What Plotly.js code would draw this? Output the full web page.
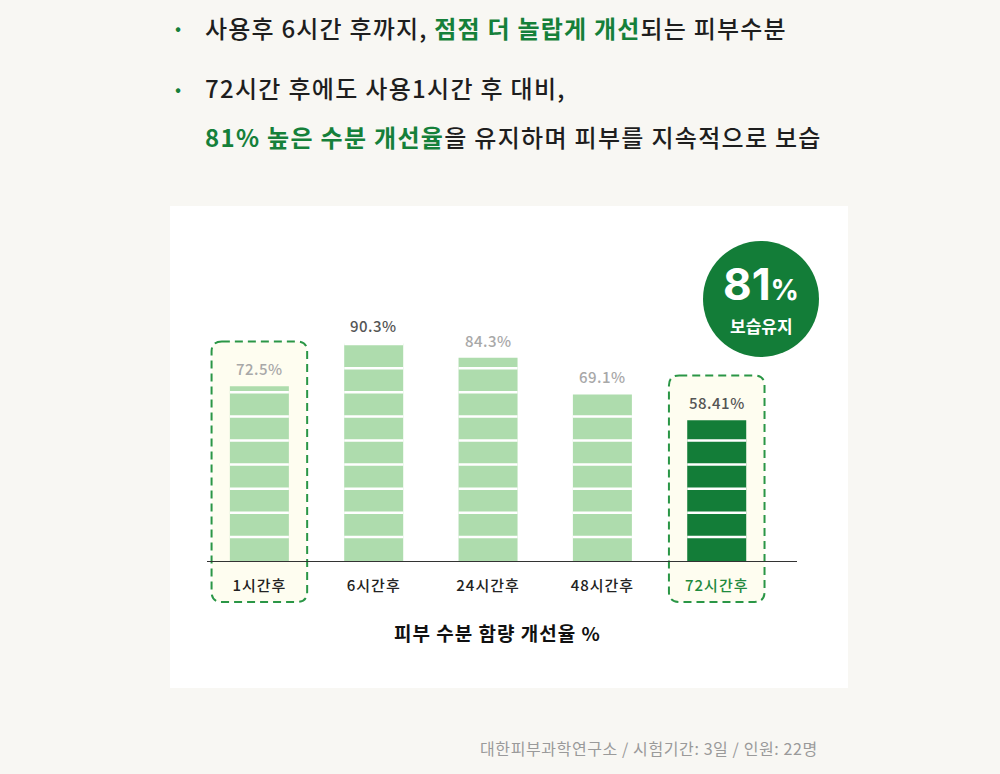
<!DOCTYPE html>
<html><head><meta charset="utf-8">
<script src="https://cdn.plot.ly/plotly-3.0.1.min.js"></script>
<style>html,body{margin:0;padding:0;background:#f8f7f3;}</style>
</head><body><div id="chart" style="width:1000px;height:774px;"></div>
<script>
// ---- data ----
const categories = ['1시간후', '6시간후', '24시간후', '48시간후', '72시간후'];
const values = [72.5, 90.3, 84.3, 69.1, 58.41];
const valueLabels = ['72.5%', '90.3%', '84.3%', '69.1%', '58.41%'];
const highlightedIdx = [0, 4];
const badgeNumber = '81';
const badgeUnit = '%';
const badgeText = '보습유지';
const axisTitle = '피부 수분 함량 개선율 %';
const headPlain1a = '사용후 6시간 후까지, ';
const headGreen1 = '점점 더 놀랍게 개선';
const headPlain1b = '되는 피부수분';
const headPlain2 = '72시간 후에도 사용1시간 후 대비,';
const headGreen3 = '81% 높은 수분 개선율';
const headPlain3 = '을 유지하며 피부를 지속적으로 보습';
const footnote = '대한피부과학연구소 / 시험기간: 3일 / 인원: 22명';

// ---- style ----
const FONT = '"Noto Sans CJK KR", "Noto Sans", sans-serif';
const GREEN = '#15803a';
const LIGHT = '#aedcad';
const DARK = '#137d38';
const DASH = '#2a9646';
const barColors = categories.map((c, i) => i === categories.length - 1 ? DARK : LIGHT);
const labelColors = ['#a8a8a8', '#555555', '#a8a8a8', '#a8a8a8', '#555555'];
const tickColors = ['#222222', '#222222', '#222222', '#222222', '#1f8a3e'];
const BW = 0.516;
const sp = (t, ls, extra) => `<span style="letter-spacing:${ls}px${extra ? ';' + extra : ''}">${t}</span>`;

// pixel frame
const L = 207, R = 797, T = 206, B = 688, BASE = 561, PXU = 2.41;
const px = p => (p - L) / (R - L);
const py = p => (B - p) / (B - T);
const yRange = [-(B - BASE) / PXU, (BASE - T) / PXU];
const xRange = [-0.458, 4.702];

const xs = categories.map((c, i) => i);

const trace = {
  type: 'bar', x: xs, y: values, width: BW,
  marker: {color: barColors, line: {width: 0}},
  hoverinfo: 'skip'
};

const shapes = [];
// white panel
shapes.push({type: 'rect', xref: 'paper', yref: 'paper', x0: px(170), x1: px(848), y0: py(688), y1: py(206),
  fillcolor: '#ffffff', line: {width: 0}, layer: 'below'});
// highlight boxes
function roundRect(x0, x1, y0, y1, rx, ry) {
  return `M${x0 + rx},${y1} L${x1 - rx},${y1} Q${x1},${y1} ${x1},${y1 - ry} L${x1},${y0 + ry} Q${x1},${y0} ${x1 - rx},${y0} L${x0 + rx},${y0} Q${x0},${y0} ${x0},${y0 + ry} L${x0},${y1 - ry} Q${x0},${y1} ${x0 + rx},${y1} Z`;
}
highlightedIdx.forEach(i => {
  shapes.push({type: 'path', xref: 'x', yref: 'y', layer: 'below',
    path: roundRect(i - 0.418, i + 0.418, -17.0, values[i] + 18.6, 0.09, 4.2),
    fillcolor: '#fefdf0', line: {color: DASH, width: 2, dash: '8px,5px'}});
});
// white separators every 10 units
values.forEach((v, i) => {
  for (let k = 10; k < v; k += 10) {
    shapes.push({type: 'line', xref: 'x', yref: 'y', x0: i - BW / 2, x1: i + BW / 2, y0: k, y1: k,
      line: {color: '#ffffff', width: 2.5}, layer: 'above'});
  }
});
// badge circle
shapes.push({type: 'circle', xref: 'paper', yref: 'paper', xsizemode: 'pixel', ysizemode: 'pixel',
  xanchor: px(761), yanchor: py(299), x0: -58, x1: 58, y0: -58, y1: 58,
  fillcolor: DARK, line: {width: 0}, layer: 'above'});

const ann = [];
// value labels
values.forEach((v, i) => {
  ann.push({xref: 'x', yref: 'y', x: i, y: v, yanchor: 'bottom', yshift: 5, showarrow: false,
    text: sp(valueLabels[i], 0.5), font: {family: FONT, size: 15, weight: 500, color: labelColors[i]}});
});
// badge text
ann.push({xref: 'paper', yref: 'paper', x: px(761), y: py(284), showarrow: false, xanchor: 'center', yanchor: 'middle',
  text: `<b>${badgeNumber}<span style="font-size:28px">${badgeUnit}</span></b>`,
  font: {family: 'Inter, Roboto, sans-serif', size: 44, color: '#ffffff'}});
ann.push({xref: 'paper', yref: 'paper', x: px(761), y: py(325), showarrow: false, xanchor: 'center', yanchor: 'middle',
  text: `<b>${badgeText}</b>`, font: {family: FONT, size: 17, color: '#ffffff'}});
// axis title
ann.push({xref: 'paper', yref: 'paper', x: px(497), y: py(632), showarrow: false, xanchor: 'center', yanchor: 'middle',
  text: `<b>${sp(axisTitle, 1)}</b>`, font: {family: FONT, size: 19, color: '#111111'}});
// header
const g = s => `<b><span style="color:${GREEN}">${s}</span></b>`;
[[27, headPlain1a + g(headGreen1) + headPlain1b, 1.2, true], [88, headPlain2, 1.3, true], [136, g(headGreen3) + headPlain3, 1.3, false]].forEach(([y, t, ls, bullet]) => {
  ann.push({xref: 'paper', yref: 'paper', x: px(203), y: py(y), showarrow: false, xanchor: 'left', yanchor: 'middle',
    text: sp(t, ls), font: {family: FONT, size: 24, weight: 500, color: '#1e1e1e'}});
  if (bullet) ann.push({xref: 'paper', yref: 'paper', x: px(178), y: py(y), showarrow: false, xanchor: 'center', yanchor: 'middle',
    text: '•', font: {family: FONT, size: 18, color: GREEN}});
});
// footnote
ann.push({xref: 'paper', yref: 'paper', x: px(820), y: py(748), showarrow: false, xanchor: 'right', yanchor: 'middle',
  text: sp(footnote, 0.6), font: {family: FONT, size: 16, color: '#9a9a9a'}});

const layout = {
  width: 1000, height: 774,
  margin: {l: L, r: 1000 - R, t: T, b: 774 - B, pad: 0},
  paper_bgcolor: '#f8f7f3', plot_bgcolor: 'rgba(0,0,0,0)',
  showlegend: false,
  xaxis: {range: xRange, anchor: 'free', position: (B - BASE + 0.5) / (B - T), showline: true, linecolor: '#333333', linewidth: 1,
    showgrid: false, zeroline: false, tickvals: xs,
    ticktext: categories.map((c, i) => `<span style="color:${tickColors[i]};letter-spacing:1px">${c}</span>`),
    ticks: 'outside', ticklen: 11, tickcolor: 'rgba(0,0,0,0)', tickfont: {family: FONT, size: 15, weight: 500, color: '#222222'}, fixedrange: true},
  yaxis: {range: yRange, visible: false, showgrid: false, zeroline: false, fixedrange: true},
  shapes: shapes, annotations: ann,
  font: {family: FONT}
};
Plotly.newPlot('chart', [trace], layout, {displayModeBar: false, staticPlot: true});
</script></body></html>
